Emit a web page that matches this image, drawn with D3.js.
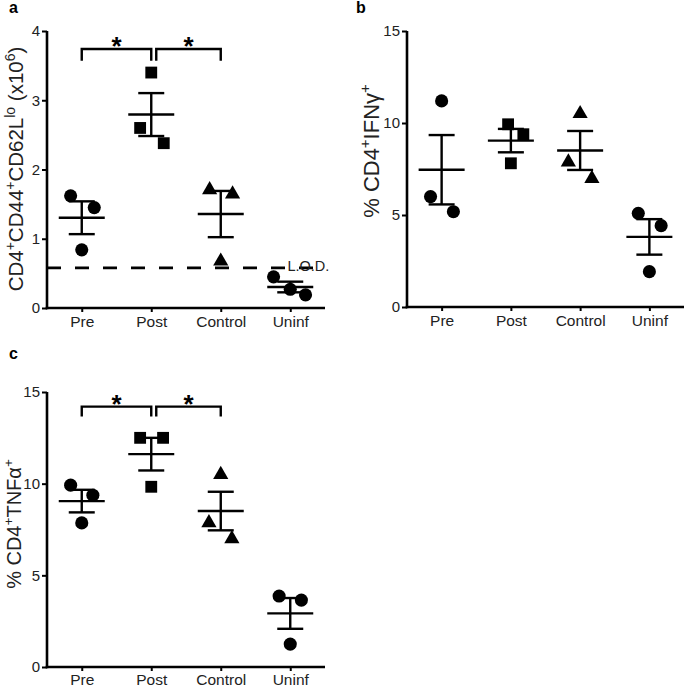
<!DOCTYPE html>
<html>
<head>
<meta charset="utf-8">
<script src="https://cdn.jsdelivr.net/npm/d3@7"></script>
<style>
  html, body { margin: 0; padding: 0; background: #fff; }
  svg { display: block; font-family: "Liberation Sans", Arial, Helvetica, sans-serif; }
</style>
</head>
<body>
<svg id="chart" width="685" height="687"></svg>
<script>
// ---------- DATA ----------
const categories = ["Pre", "Post", "Control", "Uninf"];
const shapes = ["circle", "square", "triangle", "circle"];

// Panel a: CD4+CD44+CD62Llo (x10^6)
const aValues = [
  [1.62, 1.45, 0.84],
  [3.40, 2.60, 2.38],
  [1.72, 1.66, 0.69],
  [0.45, 0.27, 0.19]
];
const aJitter = [[-0.16, 0.18, 0], [0, -0.16, 0.18], [-0.16, 0.17, 0], [-0.24, 0, 0.22]];
const aTicks = [0, 1, 2, 3, 4];
const aLOD = 0.58;

// Panel b: % CD4+IFNγ+
const bValues = [
  [11.2, 6.0, 5.18],
  [9.93, 9.39, 7.81],
  [10.56, 7.93, 7.03],
  [5.09, 4.42, 1.92]
];
const bJitter = [[0, -0.16, 0.17], [-0.04, 0.18, 0], [0, -0.17, 0.17], [-0.16, 0.17, 0]];
const bTicks = [0, 5, 10, 15];

// Panel c: % CD4+TNFα+
const cValues = [
  [9.92, 9.37, 7.86],
  [12.5, 12.5, 9.83],
  [10.55, 7.92, 7.05],
  [3.87, 3.65, 1.25]
];
const cJitter = [[-0.16, 0.16, 0], [-0.16, 0.17, 0], [0, -0.17, 0.16], [-0.16, 0.16, 0]];
const cTicks = [0, 5, 10, 15];

// significance brackets: [from, to]
const sigPairs = [["Pre", "Post"], ["Post", "Control"]];

// ---------- DRAW ----------
const svg = d3.select("#chart");

function stats(vals) {
  const m = d3.mean(vals);
  const sem = d3.deviation(vals) / Math.sqrt(vals.length);
  return { m, sem };
}

function drawPanel(opt) {
  const g = svg.append("g");
  const x = d3.scalePoint().domain(categories).range(opt.xRange).padding(0.5);
  const step = x.step();
  const y = d3.scaleLinear().domain([0, opt.yMax]).range(opt.yRange);

  // axes
  const yAxis = g.append("g").attr("transform", `translate(${opt.xRange[0]},0)`)
    .call(d3.axisLeft(y).tickValues(opt.ticks).tickFormat(d3.format("d")).tickSize(5).tickSizeOuter(0).tickPadding(2));
  const xAxis = g.append("g").attr("transform", `translate(0,${opt.yRange[0]})`)
    .call(d3.axisBottom(x).tickSize(4).tickSizeOuter(0).tickPadding(opt.xPad));
  [yAxis, xAxis].forEach(ax => {
    ax.select(".domain").attr("stroke", "#000").attr("stroke-width", 2.6);
    ax.selectAll(".tick line").attr("stroke", "#000").attr("stroke-width", 2);
    ax.selectAll(".tick text").attr("fill", "#222").style("font-family", '"Liberation Sans", Arial, sans-serif');
  });
  yAxis.selectAll(".tick text").style("font-size", "15px");
  xAxis.selectAll(".tick text").style("font-size", "15.5px");
  // extend axes to meet at the corner
  yAxis.select(".domain").attr("d", `M0,${opt.yRange[1]}V${opt.yRange[0] + 1.3}`);
  xAxis.select(".domain").attr("d", `M${opt.xRange[0] - 1.3},0H${opt.xRange[1]}`);

  // LOD line
  if (opt.lod !== undefined) {
    g.append("line")
      .attr("x1", opt.xRange[0]).attr("x2", x("Uninf") + step * 0.33)
      .attr("y1", y(opt.lod)).attr("y2", y(opt.lod))
      .attr("stroke", "#000").attr("stroke-width", 2.6).attr("stroke-dasharray", "14,14");
    g.append("text").attr("x", x("Uninf") - step * 0.04).attr("y", y(opt.lod) + 3)
      .attr("font-size", 14.5).attr("fill", "#222").text("L.O.D.");
  }

  // points and mean ± SEM
  categories.forEach((c, i) => {
    const vals = opt.values[i];
    const s = stats(vals);
    const cx = x(c);
    const sym = d3.symbol().type(
      shapes[i] === "circle" ? d3.symbolCircle : shapes[i] === "square" ? d3.symbolSquare : d3.symbolTriangle
    ).size(shapes[i] === "circle" ? 135 : shapes[i] === "square" ? 140 : 100);
    vals.forEach((v, j) => {
      g.append("path").attr("d", sym())
        .attr("transform", `translate(${cx + opt.jitter[i][j] * step},${y(v) + (shapes[i] === "triangle" ? 1 : 0)})`)
        .attr("fill", "#000");
    });
    const ln = (x1, x2, y1, y2) => g.append("line").attr("x1", x1).attr("x2", x2).attr("y1", y1).attr("y2", y2)
      .attr("stroke", "#000").attr("stroke-width", 2.4);
    ln(cx - 23, cx + 23, y(s.m), y(s.m));
    ln(cx, cx, y(s.m - s.sem), y(s.m + s.sem));
    ln(cx - 13, cx + 13, y(s.m + s.sem), y(s.m + s.sem));
    ln(cx - 13, cx + 13, y(s.m - s.sem), y(s.m - s.sem));
  });

  // significance brackets
  if (opt.sig) {
    sigPairs.forEach(([a, b], k) => {
      const x1 = x(a) + (k === 1 ? 5 : 0);
      const x2 = x(b);
      const yt = y(opt.sig.top), yb = y(opt.sig.bottom);
      g.append("path").attr("d", `M${x1},${yb}V${yt}H${x2}V${yb}`)
        .attr("fill", "none").attr("stroke", "#000").attr("stroke-width", 2.4);
      g.append("text").attr("x", (x1 + x2) / 2).attr("y", yt + 6)
        .attr("text-anchor", "middle").attr("font-size", 26).attr("font-weight", "bold").text("*");
    });
  }

  // y label with superscripts
  const lab = g.append("text")
    .attr("transform", `translate(${opt.labelX},${opt.labelY}) rotate(-90)`)
    .attr("text-anchor", "middle").attr("font-size", opt.labelSize).attr("fill", "#222");
  let raised = false;
  const shift = opt.labelSize * 0.4;
  opt.label.forEach(([t, sup]) => {
    const ts = lab.append("tspan").text(t);
    if (sup && !raised) { ts.attr("dy", -shift); raised = true; }
    else if (!sup && raised) { ts.attr("dy", shift); raised = false; }
    if (sup) ts.attr("font-size", opt.labelSize * 0.68);
  });

  // panel letter
  svg.append("text").attr("x", opt.letterX).attr("y", opt.letterY)
    .attr("font-size", 16).attr("font-weight", "bold").text(opt.letter);
}

drawPanel({
  values: aValues, jitter: aJitter, ticks: aTicks, yMax: 4,
  xRange: [47, 325], yRange: [308, 31], lod: aLOD, xPad: 4,
  sig: { top: 3.74, bottom: 3.57 },
  label: [["CD4"], ["+", 1], ["CD44"], ["+", 1], ["CD62L"], ["lo", 1], [" (x10"], ["6", 1], [")"]],
  labelX: 23, labelY: 169, labelSize: 20.5,
  letter: "a", letterX: 9, letterY: 13
});

drawPanel({
  values: bValues, jitter: bJitter, ticks: bTicks, yMax: 15,
  xRange: [407, 684], yRange: [307, 31], xPad: 4,
  label: [["% CD4"], ["+", 1], ["IFN"], ["\u03b3"], ["+", 1]],
  labelX: 379, labelY: 151, labelSize: 22,
  letter: "b", letterX: 356, letterY: 13
});

drawPanel({
  values: cValues, jitter: cJitter, ticks: cTicks, yMax: 15,
  xRange: [47, 325], yRange: [667, 392], xPad: 3,
  sig: { top: 14.2, bottom: 13.67 },
  label: [["% CD4"], ["+", 1], ["TNF"], ["\u03b1"], ["+", 1]],
  labelX: 21, labelY: 524, labelSize: 20,
  letter: "c", letterX: 9, letterY: 359
});
</script>
</body>
</html>
